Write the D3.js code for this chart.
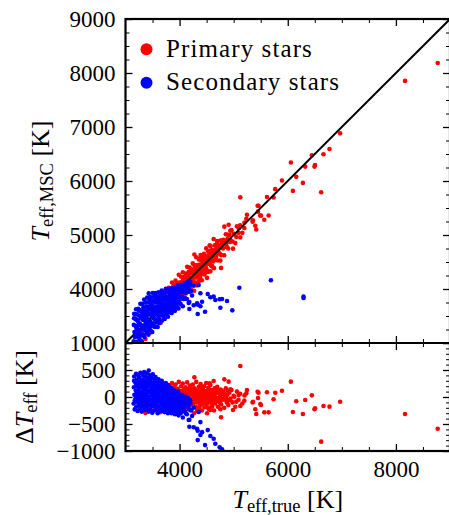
<!DOCTYPE html>
<html><head><meta charset="utf-8">
<script src="https://cdn.jsdelivr.net/npm/d3@7"></script>
<style>
body{margin:0;background:#fff}
svg{display:block}
text{font-family:"Liberation Serif","Times New Roman",serif;fill:#000}
</style></head>
<body><svg id="c" width="449" height="515"></svg>
<script>
// ---- data: [T_eff,true, ΔT_eff] (ΔT_eff = T_eff,MSC − T_eff,true) ----
const primaryStars = [
[3308,-128],[3369,-295],[3400,-210],[3450,-260],[3541,-241],[3600,-190],[3650,-280],[3700,-220],
[3720,-120],[3740,60],[3760,-200],[3780,150],[3790,-40],
[3800,220],[3810,-90],[3820,30],[3830,-250],[3840,120],
[3850,-150],[3860,260],[3870,0],[3880,-60],[3890,180],
[3900,-200],[3905,90],[3915,-20],[3925,230],[3935,-120],
[3945,40],[3955,-280],[3965,150],[3975,-50],[3985,280],
[3995,20],[4005,-160],[4012,110],[4020,-30],[4028,200],
[4036,-220],[4044,60],[4052,-90],[4060,250],[4068,-10],
[4076,140],[4084,-170],[4092,30],[4100,-260],[4108,180],
[4116,-60],[4124,90],[4132,-130],[4140,270],[4148,-20],
[4156,120],[4164,-200],[4172,40],[4180,-90],[4188,210],
[4196,-150],[4204,0],[4212,150],[4220,-240],[4228,70],
[4236,-40],[4244,230],[4252,-110],[4260,20],[4268,-300],
[4276,160],[4284,-70],[4292,90],[4300,-180],[4308,280],
[4316,-10],[4324,120],[4332,-220],[4340,50],[4348,-100],
[4356,190],[4364,-30],[4372,80],[4380,-160],[4388,240],
[4396,-60],[4404,30],[4412,-250],[4420,140],[4428,-120],
[4436,60],[4444,-20],[4452,200],[4460,-190],[4468,10],
[4476,110],[4484,-80],[4492,260],[4500,-140],[4510,40],
[4520,-40],[4530,170],[4540,-220],[4550,80],[4560,-100],
[4570,220],[4580,-10],[4590,-170],[4600,120],[4612,-60],
[4624,30],[4636,-250],[4648,160],[4660,-120],[4672,60],
[4684,-20],[4696,190],[4708,-180],[4720,90],[4732,-70],
[4744,10],[4756,140],[4768,-140],[4780,50],[4795,-30],
[4810,100],[4825,-200],[4840,20],[4855,160],[4870,-90],
[4885,40],[4900,-150],[4920,80],[4940,-30],[4960,130],
[4980,-100],[5000,20],[5030,-180],[5060,100],[5090,-50],
[5120,60],[5160,-120],[5200,30],
[3960,70],[3990,-90],[4015,40],[4040,-50],[4065,100],
[4090,-110],[4115,10],[4140,-80],[4160,60],[4185,-30],
[4210,80],[4235,-140],[4255,110],[4280,-20],[4305,30],
[4330,-60],[4355,70],[4375,-110],[4400,130],[4425,-10],
[4450,-90],[4470,80],[4495,-30],[4515,100],[4545,-80],
[4565,20],[4595,50],[4620,-110],[4645,0],[4675,-80],
[4002,-40],[4026,80],[4048,-150],[4072,0],[4096,130],[4118,-200],[4144,20],[4168,150],
[4192,-100],[4216,-20],[4240,50],[4264,-180],[4288,140],[4312,-100],[4336,10],[4360,-210],
[4384,60],[4408,-130],[4432,180],[4456,-40],[4480,30],[4505,-190],[4528,90],[4552,-30],
[4576,130],[4604,-180],[4632,80],[4656,-50],[4688,100],[4716,-30],[4748,-100],[4776,120],
[4802,-50],[4830,60],[4862,-30],[4895,110],[4930,-60],[3770,-80],[3825,90],[3870,-180],
[3910,160],[3950,-40],
[5123,574],[6058,284],[5893,117],[5769,80],[5616,87],[5443,98],[5460,80],[5246,130],
[5234,68],[5197,-68],[5092,37],[5049,-87],[5123,-167],[4988,-241],[4767,-376],[4754,-228],
[4877,-105],[5400,-228],[5418,-315],[5492,-130],[5566,-284],[5646,-284],[5357,-87],[5738,-43],
[6095,-278],[6157,-80],[6280,-315],[6323,-56],[6446,31],[6495,-228],[6505,-210],[6618,-827],
[6661,-167],[6772,-179],[6969,-87],[8169,-315],[8773,-587],[4630,296],[4828,327],[4907,284],
[4274,364],[4385,191],[4557,253],[4693,142],[4754,37],[4938,142],[5012,6],[4661,-56],
[4569,-241],[4508,-302],[4323,-259],[5450,-18],[5505,-147],[5350,-103]
];
const secondaryStars = [
[3150,-120],[3155,180],[3160,380],[3165,40],[3170,-230],
[3180,270],[3185,-40],[3190,120],[3195,430],[3200,-180],
[3205,60],[3210,320],[3215,-90],[3220,200],[3225,-260],
[3230,10],[3235,400],[3240,140],[3245,-150],[3250,260],
[3255,-30],[3260,350],[3265,90],[3270,-220],[3275,450],
[3280,180],[3285,-110],[3290,300],[3295,20],[3300,-270],
[3305,220],[3310,-60],[3315,410],[3320,110],[3325,-180],
[3330,330],[3335,-10],[3340,160],[3345,460],[3350,-240],
[3355,250],[3360,50],[3365,-130],[3370,380],[3375,140],
[3380,-40],[3385,290],[3390,-210],[3395,70],[3400,440],
[3405,190],[3410,-90],[3415,340],[3420,0],[3425,-270],
[3430,490],[3435,230],[3440,-150],[3445,100],[3450,400],
[3455,-50],[3460,280],[3465,-230],[3470,150],[3475,30],
[3480,360],[3485,-120],[3490,210],[3495,-290],[3500,80],
[3505,420],[3510,-20],[3515,260],[3520,-170],[3525,130],
[3530,330],[3535,-80],[3540,40],[3545,-250],[3550,200],
[3555,370],[3560,-130],[3565,100],[3570,-30],[3575,290],
[3580,-200],[3585,160],[3590,10],[3595,-300],[3600,240],
[3605,-90],[3610,330],[3615,60],[3620,-170],[3625,190],
[3630,-40],[3635,280],[3640,-240],[3645,110],[3650,-10],
[3655,230],[3660,-140],[3665,70],[3670,300],[3675,-260],
[3680,150],[3685,-60],[3690,20],[3695,250],[3700,-190],
[3705,100],[3710,-100],[3715,200],[3720,-20],[3725,-280],
[3730,140],[3735,50],[3740,-150],[3745,260],[3750,-60],
[3755,90],[3760,-230],[3765,180],[3770,0],[3775,-120],
[3780,220],[3785,-300],[3790,60],[3795,-40],[3800,150],
[3805,-200],[3810,20],[3815,190],[3820,-90],[3825,-260],
[3830,100],[3835,-10],[3840,-160],[3845,170],[3850,40],
[3855,-300],[3860,-70],[3865,130],[3870,-200],[3875,10],
[3880,-120],[3885,90],[3890,-250],[3895,-30],[3900,120],
[3905,-180],[3910,30],[3915,-320],[3920,-80],[3925,80],
[3930,-220],[3935,-10],[3940,-140],[3945,60],[3950,-280],
[3955,-60],[3960,20],[3965,-200],[3970,100],[3975,-110],
[3980,-340],[3985,-20],[3990,50],[3995,-250],[4000,-150],
[4010,0],[4020,-300],[4030,-80],[4040,40],[4050,-200],
[4060,-380],[4070,-40],[4080,-130],[4090,-260],[4100,10],
[4110,-180],[4120,-70],[4135,-320],[4150,-20],[4165,-150],
[4180,-420],[4195,-60],[4210,-250],[4169,-64],[4260,-200],[4353,-279],[4385,-465],
[3158,300],[3172,-60],[3188,20],[3202,230],[3218,90],[3232,-80],[3248,350],[3262,-140],
[3278,60],[3292,200],[3308,-160],[3322,280],[3338,90],[3352,-70],[3368,200],[3382,40],
[3398,-160],[3412,260],[3428,110],[3442,-60],[3458,350],[3472,-160],[3488,50],[3502,180],
[3518,-60],[3532,100],[3548,-130],[3562,250],[3578,60],[3592,-80],[3608,150],[3622,-250],
[3638,40],[3652,160],[3668,-80],[3682,50],[3698,-120],[3712,170],[3728,-50],[3742,100],
[3758,-150],[3772,80],[3788,-180],[3802,30],[3818,-120],[3832,60],[3848,-230],[3862,30],
[3878,-160],[3892,0],[3908,-100],[3922,-260],[3938,40],[3952,-150],[3968,-40],[3982,-190],
[3998,-60],[4015,-160],[4035,-30],[4055,-120],[4075,-260],[4095,-80],[4115,-300],[4140,-130],
[4175,-230],[4200,-120],
[4169,-426],[4181,-551],[4231,-352],[4261,-561],[4323,-588],[4335,-624],[4335,-798],[4385,-704],
[4416,-651],[4471,-891],[4520,-613],[4569,-723],[4630,-772],[4661,-865],[4741,-932],[4785,-969],
[4754,-1100],[4877,-1099],[4975,-1370],[5105,-1081],[5689,-1528],[6292,-2434],[6292,-2459]
];
const seriesLabels = ["Primary stars", "Secondary stars"];
const xMajorTicks = [4000, 6000, 8000];
const xMinorTicks = [3500, 4500, 5000, 5500, 6500, 7000, 7500, 8500];
const yTopMajorTicks = [3000, 4000, 5000, 6000, 7000, 8000, 9000];
const yTopLabelTicks = [4000, 5000, 6000, 7000, 8000, 9000];
const yBotMajorTicks = [-1000, -500, 0, 500, 1000];

// ---- layout ----
const svg = d3.select("#c");
const L = 125.5, R = 450, T1 = 19, B1 = 343, B2 = 451;
const x = d3.scaleLinear().domain([3000, 9000]).range([L, R]);
const yTop = d3.scaleLinear().domain([3000, 9000]).range([B1, T1]);
const yBot = d3.scaleLinear().domain([-1000, 1000]).range([B2, B1]);
const colors = ["#ff0000", "#0000ff"];

const yTopMinor = d3.range(3250, 9000, 250).filter(v => v % 1000 !== 0);
const yBotMinor = d3.range(-900, 1000, 100).filter(v => v % 500 !== 0);

const defs = svg.append("defs");
defs.append("clipPath").attr("id", "clipTop").append("rect")
  .attr("x", L).attr("y", T1).attr("width", R - L).attr("height", B1 - T1);
defs.append("clipPath").attr("id", "clipBot").append("rect")
  .attr("x", L).attr("y", B1).attr("width", R - L).attr("height", B2 - B1);

const gTop = svg.append("g").attr("clip-path", "url(#clipTop)");
const gBot = svg.append("g").attr("clip-path", "url(#clipBot)");

function drawPoints(g, data, color, yfn) {
  g.append("g").selectAll("circle").data(data).join("circle")
    .attr("cx", d => x(d[0])).attr("cy", yfn).attr("r", 2.3).attr("fill", color);
}
drawPoints(gTop, primaryStars, colors[0], d => yTop(d[0] + d[1]));
gTop.append("line")
  .attr("x1", x(3000)).attr("y1", yTop(3000)).attr("x2", x(9000)).attr("y2", yTop(9000))
  .attr("stroke", "#000").attr("stroke-width", 2);
drawPoints(gTop, secondaryStars, colors[1], d => yTop(d[0] + d[1]));

drawPoints(gBot, primaryStars, colors[0], d => yBot(d[1]));
drawPoints(gBot, secondaryStars, colors[1], d => yBot(d[1]));

// ---- axes ----
function axisG(axis, tx, ty, sw) {
  const g = svg.append("g").attr("transform", `translate(${tx},${ty})`).call(axis);
  g.select(".domain").remove();
  g.selectAll(".tick line").attr("stroke", "#000").attr("stroke-width", sw);
  g.selectAll("text").attr("font-family", '"Liberation Serif", serif').attr("font-size", 23).attr("fill", "#000");
  return g;
}
const none = () => "";
// top panel
axisG(d3.axisLeft(yTop).tickValues(yTopMajorTicks).tickSize(-7).tickPadding(10)
  .tickFormat(d => yTopLabelTicks.includes(d) ? d3.format("d")(d) : ""), L, 0, 1.3);
axisG(d3.axisLeft(yTop).tickValues(yTopMinor).tickSize(-4).tickFormat(none), L, 0, 1);
axisG(d3.axisRight(yTop).tickValues(yTopMajorTicks).tickSize(-7).tickFormat(none), R, 0, 1.3);
axisG(d3.axisRight(yTop).tickValues(yTopMinor).tickSize(-4).tickFormat(none), R, 0, 1);
axisG(d3.axisTop(x).tickValues(xMajorTicks).tickSize(-7).tickFormat(none), 0, T1, 1.3);
axisG(d3.axisTop(x).tickValues(xMinorTicks).tickSize(-4).tickFormat(none), 0, T1, 1);
axisG(d3.axisTop(x).tickValues(xMajorTicks).tickSize(7).tickFormat(none), 0, B1, 1.3);
axisG(d3.axisTop(x).tickValues(xMinorTicks).tickSize(4).tickFormat(none), 0, B1, 1);
// bottom panel
axisG(d3.axisLeft(yBot).tickValues(yBotMajorTicks).tickSize(-7).tickPadding(10).tickFormat(d3.format("d")), L, 0, 1.3);
axisG(d3.axisLeft(yBot).tickValues(yBotMinor).tickSize(-4).tickFormat(none), L, 0, 1);
axisG(d3.axisRight(yBot).tickValues(yBotMajorTicks).tickSize(-7).tickFormat(none), R, 0, 1.3);
axisG(d3.axisRight(yBot).tickValues(yBotMinor).tickSize(-4).tickFormat(none), R, 0, 1);
axisG(d3.axisBottom(x).tickValues(xMajorTicks).tickSize(7).tickFormat(none), 0, B1, 1.3);
axisG(d3.axisBottom(x).tickValues(xMinorTicks).tickSize(4).tickFormat(none), 0, B1, 1);
axisG(d3.axisBottom(x).tickValues(xMajorTicks).tickSize(-7).tickPadding(10).tickFormat(d3.format("d")), 0, B2, 1.3);
axisG(d3.axisBottom(x).tickValues(xMinorTicks).tickSize(-4).tickFormat(none), 0, B2, 1);

// frames
svg.append("rect").attr("x", L).attr("y", T1).attr("width", R - L).attr("height", B2 - T1)
  .attr("fill", "none").attr("stroke", "#000").attr("stroke-width", 2.2);
svg.append("line").attr("x1", L).attr("x2", R).attr("y1", B1).attr("y2", B1)
  .attr("stroke", "#000").attr("stroke-width", 2.2);

// ---- axis labels ----
function mathLabel(t, parts) {
  parts.forEach(p => {
    const ts = t.append("tspan").text(p.s);
    if (p.it) ts.attr("font-style", "italic");
    if (p.fs) ts.attr("font-size", p.fs);
    if (p.dy) ts.attr("dy", p.dy);
  });
}
const xl = svg.append("text").attr("x", (L + R) / 2).attr("y", 508)
  .attr("text-anchor", "middle").attr("font-size", 26);
mathLabel(xl, [{s: "T", it: true}, {s: "eff,true", fs: 18.5, dy: 4}, {s: " [K]", dy: -4}]);

const yl1 = svg.append("text").attr("transform", `translate(49,${(T1 + B1) / 2}) rotate(-90)`)
  .attr("text-anchor", "middle").attr("font-size", 26);
mathLabel(yl1, [{s: "T", it: true}, {s: "eff,MSC", fs: 18.5, dy: 4}, {s: " [K]", dy: -4}]);

const yl2 = svg.append("text").attr("transform", `translate(33,${(B1 + B2) / 2}) rotate(-90)`)
  .attr("text-anchor", "middle").attr("font-size", 26);
mathLabel(yl2, [{s: "Δ"}, {s: "T", it: true}, {s: "eff", fs: 18.5, dy: 4}, {s: " [K]", dy: -4}]);

// ---- legend ----
const leg = svg.append("g");
seriesLabels.forEach((lab, i) => {
  leg.append("circle").attr("cx", 146.5).attr("cy", 49.3 + i * 33.4).attr("r", 6).attr("fill", colors[i]);
  leg.append("text").attr("x", 166).attr("y", 56.5 + i * 33.2).attr("font-size", 25)
    .attr("letter-spacing", 1.1).text(lab);
});
</script></body></html>
